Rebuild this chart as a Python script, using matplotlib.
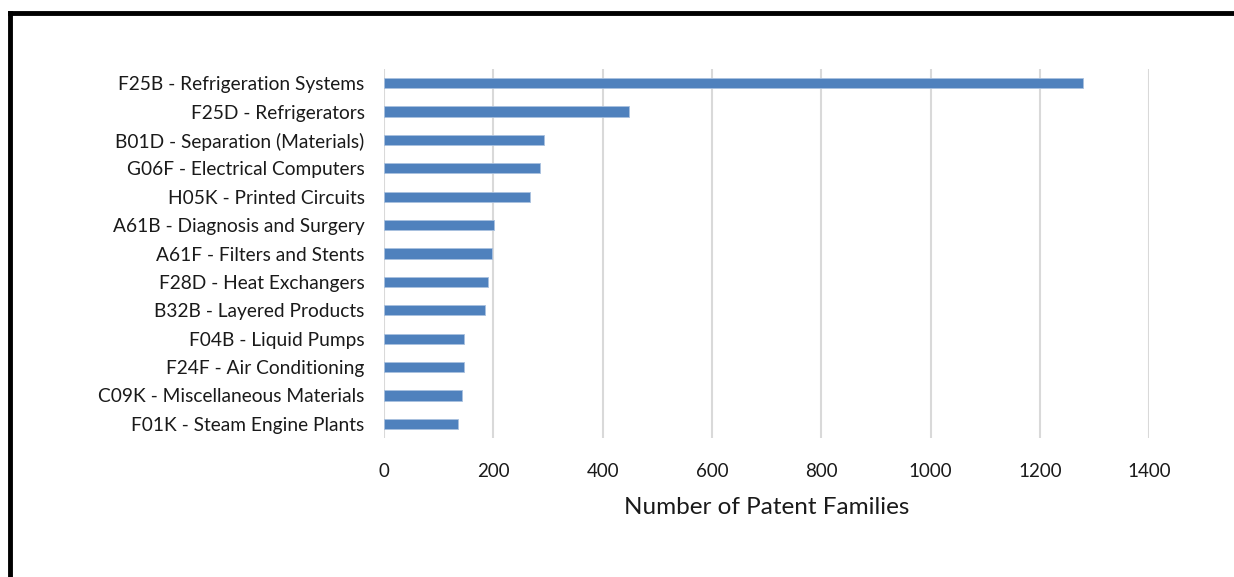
import matplotlib.pyplot as plt
from matplotlib.lines import Line2D

categories = [
    'F25B - Refrigeration Systems',
    'F25D - Refrigerators',
    'B01D - Separation (Materials)',
    'G06F - Electrical Computers',
    'H05K - Printed Circuits',
    'A61B - Diagnosis and Surgery',
    'A61F - Filters and Stents',
    'F28D - Heat Exchangers',
    'B32B - Layered Products',
    'F04B - Liquid Pumps',
    'F24F - Air Conditioning',
    'C09K - Miscellaneous Materials',
    'F01K - Steam Engine Plants',
]
families = [1279, 449, 293, 285, 267, 201, 198, 191, 184, 147, 147, 143, 136]
xticks = [0, 200, 400, 600, 800, 1000, 1200, 1400]

plt.rcParams['font.family'] = ['Lato', 'DejaVu Sans']

fig = plt.figure(figsize=(12.34, 5.77), dpi=100)
ax = fig.add_axes([0.3112, 0.2409, 0.6202, 0.6395])

pos = list(range(len(categories)))
ax.barh(pos, families, height=0.36, color='#4F81BD', edgecolor='#A9C1DF',
        linewidth=0.6, zorder=3)
ax.set_ylim(len(categories) - 0.5, -0.5)
ax.set_yticks(pos)
ax.set_yticklabels(categories, fontsize=13.8, color='#1a1a1a')
ax.set_xlim(0, 1400)
ax.set_xticks(xticks)
ax.set_xticklabels([str(t) for t in xticks], fontsize=13.5, color='#1a1a1a')
ax.tick_params(axis='both', length=0)
ax.tick_params(axis='y', pad=14)
ax.tick_params(axis='x', pad=18)
ax.grid(axis='x', color='#D9D9D9', linewidth=1.5, zorder=0)
for s in ax.spines.values():
    s.set_visible(False)
ax.set_xlabel('Number of Patent Families', fontsize=17.5, color='#1a1a1a', labelpad=12)

# partial black frame around the figure
fig.add_artist(Line2D([10 / 1234, 1], [1 - 13 / 577, 1 - 13 / 577],
                      transform=fig.transFigure, color='black', linewidth=3.5))
fig.add_artist(Line2D([10 / 1234, 10 / 1234], [0, 1 - 13 / 577],
                      transform=fig.transFigure, color='black', linewidth=3.5))

fig.savefig('out.png', dpi=100)
